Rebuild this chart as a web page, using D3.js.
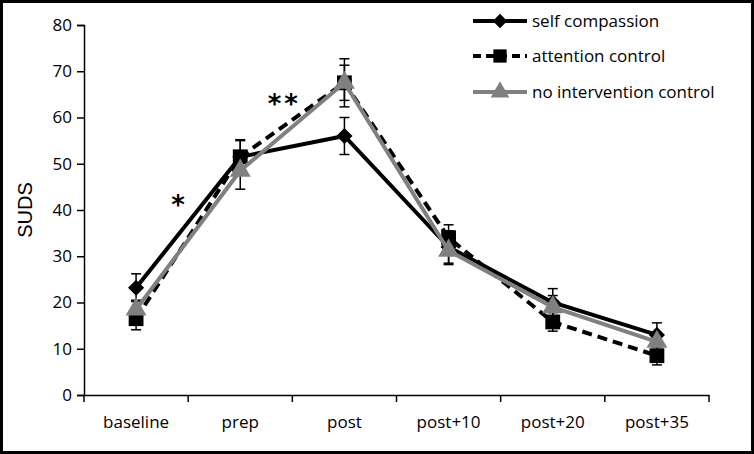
<!DOCTYPE html>
<html><head><meta charset="utf-8">
<script src="https://cdnjs.cloudflare.com/ajax/libs/d3/7.8.5/d3.min.js"></script>
<style>body{margin:0;background:#fff}svg{display:block}</style>
</head><body><svg id="c" width="754" height="454"></svg>
<script>
const categories = ["baseline","prep","post","post+10","post+20","post+35"];
const seriesNames = ["self compassion","attention control","no intervention control"];
const selfValues = [23.2, 51.5, 56.0, 32.0, 20.0, 13.0];
const selfErrors = [3.0, 3.5, 4.0, 3.5, 3.0, 2.6];
const attentionValues = [16.5, 51.5, 67.5, 34.0, 15.8, 8.5];
const attentionErrors = [2.4, 3.7, 5.2, 2.8, 2.0, 2.0];
const noIntValues = [18.5, 48.5, 67.5, 31.2, 19.0, 11.5];
const noIntErrors = [2.0, 4.0, 3.8, 3.0, 2.5, 2.0];
const yTicks = [0,10,20,30,40,50,60,70,80];
const annotations = [{text:"*", between:[0,1], value:39.2}, {text:"**", between:[1,2], value:61}];

const svg = d3.select("#c");
svg.append("rect").attr("x",1.5).attr("y",1.5).attr("width",751).attr("height",451)
  .attr("fill","#fff").attr("stroke","#000").attr("stroke-width",3);

const x0 = 84, x1 = 709, yTop = 25, yBot = 395;
const x = d3.scaleBand().domain(categories).range([x0,x1]).padding(0);
const y = d3.scaleLinear().domain([0,80]).range([yBot,yTop]);
const cx = c => x(c) + x.bandwidth()/2;
const font = "'Open Sans', 'Liberation Sans', sans-serif";

// y axis
const ya = svg.append("g").attr("transform",`translate(${x0},0)`)
  .call(d3.axisLeft(y).tickValues(yTicks).tickSize(7).tickPadding(5));
ya.select(".domain").attr("stroke","#000").attr("stroke-width",1.5);
ya.selectAll(".tick line").attr("stroke","#000").attr("stroke-width",1.5);
ya.selectAll("text").attr("font-family",font).attr("font-size",17).attr("fill","#000");

// x axis
const xa = svg.append("g").attr("transform",`translate(0,${yBot})`)
  .call(d3.axisBottom(x).tickSize(0).tickPadding(21));
xa.select(".domain").attr("stroke","#000").attr("stroke-width",1.5);
xa.selectAll("text").attr("font-family",font).attr("font-size",17).attr("fill","#000");
const bounds = [x0].concat(categories.map(c => x(c)+x.bandwidth()));
svg.append("g").selectAll("line").data(bounds).join("line")
  .attr("x1",d=>d).attr("x2",d=>d).attr("y1",yBot).attr("y2",yBot+7)
  .attr("stroke","#000").attr("stroke-width",1.5);

// y label
svg.append("text").attr("transform",`translate(32,${(yTop+yBot)/2}) rotate(-90)`)
  .attr("text-anchor","middle").attr("font-family","'Liberation Sans', Arial, sans-serif")
  .attr("font-size",20).text("SUDS");

const series = [
  {name:seriesNames[0], values:selfValues, errors:selfErrors, color:"#000", dash:null, shape:d3.symbolSquare, size:130, rot:45},
  {name:seriesNames[1], values:attentionValues, errors:attentionErrors, color:"#000", dash:"10,6", shape:d3.symbolSquare, size:220, rot:0},
  {name:seriesNames[2], values:noIntValues, errors:noIntErrors, color:"#808080", dash:null, shape:d3.symbolTriangle, size:190, rot:0}
];

// error bars
const eb = svg.append("g");
series.forEach(s => {
  categories.forEach((c,i) => {
    const xc = cx(c), lo = y(s.values[i]-s.errors[i]), hi = y(s.values[i]+s.errors[i]);
    eb.append("line").attr("x1",xc).attr("x2",xc).attr("y1",lo).attr("y2",hi).attr("stroke","#000").attr("stroke-width",1.5);
    [lo,hi].forEach(v => eb.append("line").attr("x1",xc-5).attr("x2",xc+5).attr("y1",v).attr("y2",v).attr("stroke","#000").attr("stroke-width",1.5));
  });
});

const line = d3.line().x((d,i)=>cx(categories[i])).y(d=>y(d));
series.forEach(s => {
  svg.append("path").attr("d",line(s.values)).attr("fill","none").attr("stroke",s.color)
    .attr("stroke-width",4).attr("stroke-dasharray",s.dash);
  svg.append("g").selectAll("path").data(s.values).join("path")
    .attr("d",d3.symbol().type(s.shape).size(s.size))
    .attr("transform",(d,i)=>`translate(${cx(categories[i])},${y(d)}) rotate(${s.rot})`)
    .attr("fill",s.color);
});

// annotations
annotations.forEach(a => {
  const xm = (cx(categories[a.between[0]]) + cx(categories[a.between[1]]))/2 - 10;
  svg.append("text").attr("x",xm + (a.text.length>1?2:0)).attr("y",y(a.value)).attr("text-anchor","middle")
    .attr("font-family","'DejaVu Sans', sans-serif").attr("font-weight","bold").attr("font-size",26)
    .attr("letter-spacing",a.text.length>1?3:0)
    .text(a.text);
});

// legend
const lg = svg.append("g");
const rows = [21, 56, 92];
series.forEach((s,i) => {
  const yy = rows[i];
  lg.append("line").attr("x1",473).attr("x2",527).attr("y1",yy).attr("y2",yy)
    .attr("stroke",s.color).attr("stroke-width",4).attr("stroke-dasharray",s.dash ? "8,5":null);
  lg.append("path").attr("d",d3.symbol().type(s.shape).size(s.size*0.8))
    .attr("transform",`translate(500,${yy}) rotate(${s.rot})`).attr("fill",s.color);
  lg.append("text").attr("x",532).attr("y",yy).attr("dy","0.35em").attr("font-family",font).attr("font-size",17).text(s.name);
});
</script></body></html>
